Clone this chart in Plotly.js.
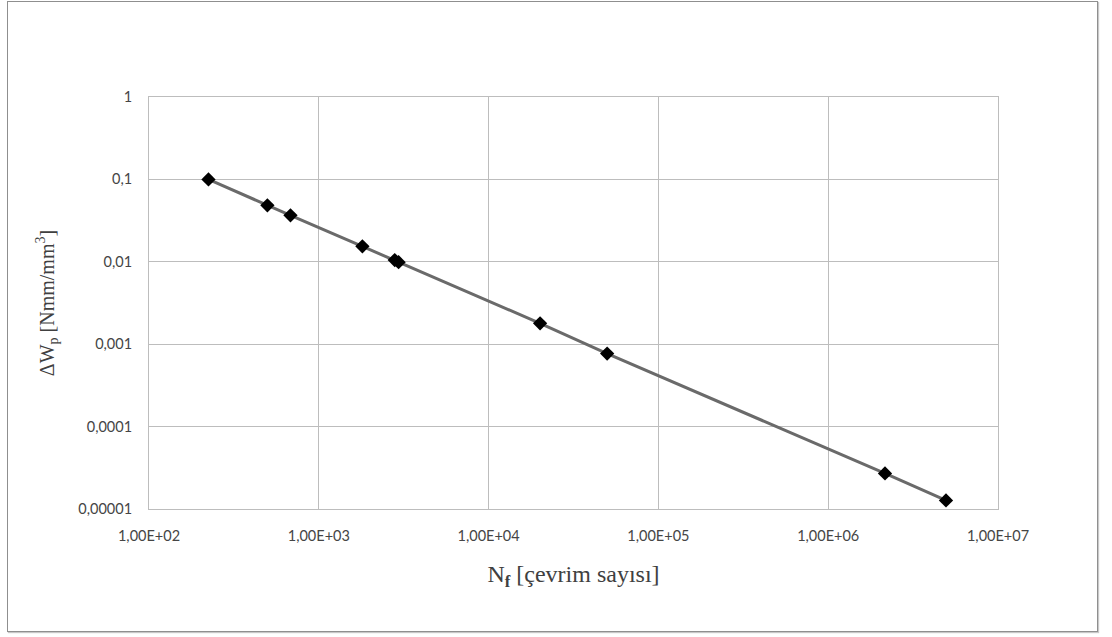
<!DOCTYPE html>
<html>
<head>
<meta charset="utf-8">
<script src="https://cdn.plot.ly/plotly-3.0.1.min.js"></script>
<style>
html,body{margin:0;padding:0;background:#fff;}
#frame{position:absolute;left:7px;top:1px;width:1089px;height:629px;border:1.5px solid #8f8f8f;box-shadow:1px 1px 1px #c8c8c8;}
#chart{position:absolute;left:0;top:0;width:1112px;height:637px;}
</style>
</head>
<body>
<div id="frame"></div>
<div id="chart"></div>
<script>
// Data
const cycles = [224, 498, 681, 1806, 2800, 2950, 20100, 49900, 2160000, 4940000];
const energy = [0.1, 0.0484, 0.0366, 0.0154, 0.0105, 0.0099, 0.00179, 0.00077, 0.000027, 0.0000127];

const xTickVals = [1e2, 1e3, 1e4, 1e5, 1e6, 1e7];
const xTickText = ["1,00E+02", "1,00E+03", "1,00E+04", "1,00E+05", "1,00E+06", "1,00E+07"];
const yTickVals = [1e-5, 1e-4, 1e-3, 1e-2, 1e-1, 1];
const yTickText = ["0,00001", "0,0001", "0,001", "0,01", "0,1", "1"];

const trace = {
  x: cycles, y: energy, type: 'scatter', mode: 'lines+markers',
  line: {color: '#6a6a6a', width: 3},
  marker: {symbol: 'diamond', size: 11, color: '#000000'},
  hoverinfo: 'x+y', showlegend: false
};

const tickFont = {family: 'Lato, "Open Sans", sans-serif', size: 14.5, color: '#454545'};
const layout = {
  width: 1112, height: 637,
  paper_bgcolor: 'rgba(0,0,0,0)', plot_bgcolor: '#ffffff',
  margin: {l: 148.5, r: 114, t: 97, b: 128},
  showlegend: false,
  xaxis: {
    type: 'log', range: [2, 7], tickmode: 'array', tickvals: xTickVals, ticktext: xTickText,
    showgrid: true, gridcolor: '#bdbdbd', gridwidth: 1,
    showline: true, linecolor: '#bdbdbd', linewidth: 1, mirror: true,
    ticks: 'outside', ticklen: 0, tickcolor: 'rgba(0,0,0,0)', ticklabelstandoff: 14,
    tickfont: tickFont, zeroline: false, automargin: false,
    title: {text: 'N<sub><b>f</b></sub> [çevrim sayısı]', font: {family: '"Liberation Serif", "Times New Roman", serif', size: 24, color: '#404040'}, standoff: 21}
  },
  yaxis: {
    type: 'log', range: [-5, 0], tickmode: 'array', tickvals: yTickVals, ticktext: yTickText,
    showgrid: true, gridcolor: '#bdbdbd', gridwidth: 1,
    showline: true, linecolor: '#bdbdbd', linewidth: 1, mirror: true,
    ticks: 'outside', ticklen: 0, tickcolor: 'rgba(0,0,0,0)', ticklabelstandoff: 13,
    tickfont: tickFont, zeroline: false, automargin: false,
    title: {text: 'ΔW<sub>p</sub> [Nmm/mm<sup>3</sup>]', font: {family: '"Liberation Serif", "Times New Roman", serif', size: 20, color: '#404040'}, standoff: 18}
  }
};

Plotly.newPlot('chart', [trace], layout, {displayModeBar: false, staticPlot: true});
</script>
</body>
</html>
